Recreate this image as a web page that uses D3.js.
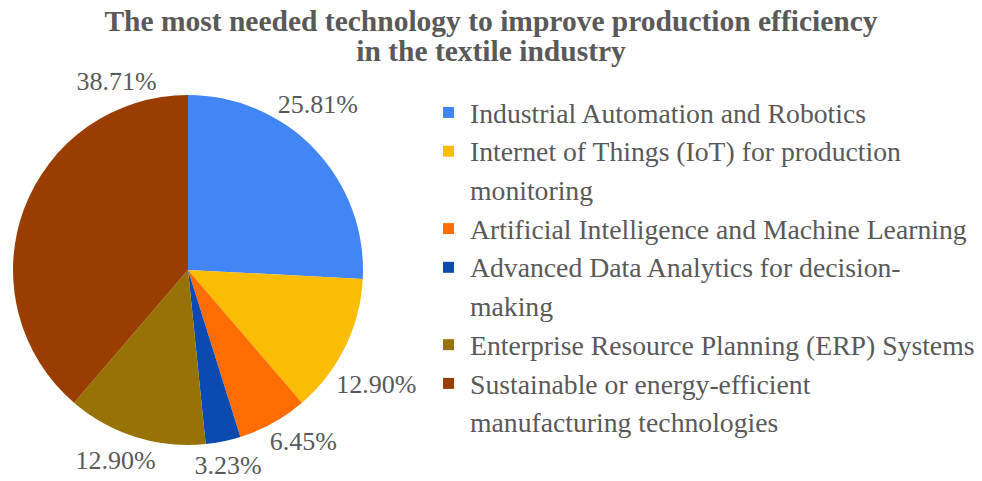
<!DOCTYPE html>
<html><head><meta charset="utf-8">
<script src="https://cdn.jsdelivr.net/npm/d3@7"></script>
<style>body{margin:0;background:#fff}svg{display:block}</style>
</head><body>
<svg id="c" width="982" height="481"></svg>
<script>
const categories = [
  "Industrial Automation and Robotics",
  "Internet of Things (IoT) for production monitoring",
  "Artificial Intelligence and Machine Learning",
  "Advanced Data Analytics for decision-making",
  "Enterprise Resource Planning (ERP) Systems",
  "Sustainable or energy-efficient manufacturing technologies"
];
const values = [25.81, 12.90, 6.45, 3.23, 12.90, 38.71];
const valueLabels = ["25.81%", "12.90%", "6.45%", "3.23%", "12.90%", "38.71%"];
const legendLines = [
  ["Industrial Automation and Robotics"],
  ["Internet of Things (IoT) for production", "monitoring"],
  ["Artificial Intelligence and Machine Learning"],
  ["Advanced Data Analytics for decision-", "making"],
  ["Enterprise Resource Planning (ERP) Systems"],
  ["Sustainable or energy-efficient", "manufacturing technologies"]
];
const colors = ["#4285F4", "#FBBC04", "#FF6D01", "#0B4AB0", "#977205", "#993E00"];
const titleLines = ["The most needed technology to improve production efficiency", "in the textile industry"];

const svg = d3.select("#c");
const font = "'Liberation Serif','Times New Roman',serif";
const textColor = "#595959";

svg.append("g").selectAll("text").data(titleLines).join("text")
  .attr("x", 491).attr("y", (d, i) => 31 + i * 30)
  .attr("text-anchor", "middle")
  .attr("font-family", font).attr("font-weight", "bold").attr("font-size", 29.5)
  .attr("fill", textColor).text(d => d);

const cx = 188, cy = 270, r = 175;
const color = d3.scaleOrdinal().domain(categories).range(colors);
const pie = d3.pie().sort(null).value(d => d.v);
const data = categories.map((c, i) => ({c, v: values[i], l: valueLabels[i]}));
const arcs = pie(data);
const arc = d3.arc().innerRadius(0).outerRadius(r);
const g = svg.append("g").attr("transform", `translate(${cx},${cy})`);
g.selectAll("path").data(arcs).join("path")
  .attr("d", arc).attr("fill", d => color(d.data.c));

// label placement: mid-angle, with layout nudges for large slices
const angleShift = [-8.5, 5, -5, 0, 3.5, 49];
const radialDist = [211, 220, 206, 199, 203, 202];
g.selectAll("text").data(arcs).join("text")
  .attr("transform", (d, i) => {
    const a = (d.startAngle + d.endAngle) / 2 + angleShift[i] * Math.PI / 180;
    const rr = radialDist[i];
    return `translate(${Math.sin(a) * rr},${-Math.cos(a) * rr})`;
  })
  .attr("text-anchor", "middle").attr("dy", "0.35em")
  .attr("font-family", font).attr("font-size", 26).attr("fill", textColor)
  .text(d => d.data.l);

const lg = svg.append("g");
let y = 113;
categories.forEach((c, i) => {
  lg.append("rect").attr("x", 443).attr("y", y - 6).attr("width", 11).attr("height", 11).attr("fill", color(c));
  legendLines[i].forEach((line, j) => {
    lg.append("text").attr("x", 470).attr("y", y + j * 38.7).attr("dy", "0.35em")
      .attr("font-family", font).attr("font-size", 27.7).attr("fill", textColor).text(line);
  });
  y += legendLines[i].length * 38.7;
});
</script>
</body></html>
